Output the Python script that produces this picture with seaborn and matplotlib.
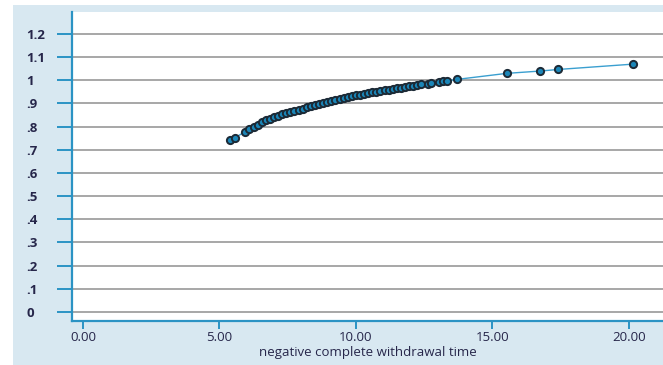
import matplotlib
matplotlib.use("Agg")
import matplotlib.pyplot as plt
from matplotlib.patches import Rectangle
import seaborn as sns
import pandas as pd

# Estimated curve: negative complete withdrawal time vs. fitted value
withdrawal_time = [
    5.38, 5.57, 5.95, 6.10, 6.25, 6.40, 6.55, 6.70, 6.85, 7.00, 7.15, 7.30,
    7.45, 7.60, 7.75, 7.90, 8.05, 8.20, 8.35, 8.50, 8.65, 8.80, 8.95, 9.10,
    9.25, 9.40, 9.55, 9.70, 9.85, 10.00, 10.15, 10.30, 10.45, 10.60, 10.75,
    10.90, 11.05, 11.20, 11.35, 11.50, 11.65, 11.80, 11.95, 12.10, 12.25,
    12.40, 12.65, 12.75, 13.05, 13.20, 13.35, 13.70, 15.52, 16.74, 17.42,
    20.16,
]
fitted_value = [
    0.742, 0.752, 0.779, 0.790, 0.800, 0.809, 0.818, 0.827, 0.835, 0.841,
    0.847, 0.853, 0.858, 0.863, 0.868, 0.873, 0.878, 0.883, 0.889, 0.894,
    0.899, 0.903, 0.907, 0.911, 0.916, 0.920, 0.924, 0.928, 0.932, 0.935,
    0.938, 0.941, 0.944, 0.948, 0.951, 0.954, 0.957, 0.960, 0.963, 0.965,
    0.968, 0.971, 0.974, 0.977, 0.980, 0.983, 0.986, 0.987, 0.994, 0.996,
    0.998, 1.004, 1.030, 1.040, 1.047, 1.070,
]
x_ticks = [0, 5, 10, 15, 20]
x_tick_labels = ["0.00", "5.00", "10.00", "15.00", "20.00"]
y_ticks = [0, 0.1, 0.2, 0.3, 0.4, 0.5, 0.6, 0.7, 0.8, 0.9, 1.0, 1.1, 1.2]
y_tick_labels = ["0", ".1", ".2", ".3", ".4", ".5", ".6", ".7", ".8", ".9",
                 "1", "1.1", "1.2"]
x_label = "negative complete withdrawal time"

df = pd.DataFrame({"t": withdrawal_time, "v": fitted_value})

sns.set_style("white")
plt.rcParams["font.family"] = ["Open Sans", "DejaVu Sans"]

BG = "#d8e8f1"
SPINE = "#2b93c4"
TEXT = "#26264a"

fig = plt.figure(figsize=(6.63, 3.65), dpi=100)
fig.patch.set_facecolor("white")
fig.patches.append(Rectangle((13 / 663, 0), 1 - 13 / 663, 1 - 5 / 365,
                             transform=fig.transFigure, facecolor=BG,
                             edgecolor="none", zorder=-10))

ax = fig.add_axes([72 / 663, 1 - 321 / 365, 591 / 663, 309 / 365])
ax.set_zorder(1)
ax.set_facecolor("white")

for yv in y_ticks:
    ax.axhline(yv, color="#a0a0a0", linewidth=1.3, zorder=1)

sns.lineplot(data=df, x="t", y="v", ax=ax, color="#3a9fd0", linewidth=1.0,
             marker="o", markersize=5.2, markerfacecolor="#1b86b8",
             markeredgecolor="#1c2a36", markeredgewidth=1.4, zorder=3)

ax.set_xlim(-0.40, 21.25)
ax.set_ylim(-0.039, 1.295)

ax.set_xticks(x_ticks)
ax.set_xticklabels(x_tick_labels, fontsize=9.5, color=TEXT,
                   fontweight="medium")
ax.set_yticks(y_ticks)
ax.set_yticklabels(y_tick_labels, fontsize=9.5, color=TEXT,
                   fontweight="bold", ha="left")

ax.tick_params(axis="y", direction="out", length=11, width=1.4,
               color=SPINE, pad=22, left=True)
ax.tick_params(axis="x", direction="out", length=6, width=1.4,
               color=SPINE, pad=1.5, bottom=True)

for side in ("top", "right"):
    ax.spines[side].set_visible(False)
for side in ("left", "bottom"):
    ax.spines[side].set_color(SPINE)
    ax.spines[side].set_linewidth(1.6)

ax.set_xlabel(x_label, fontsize=9.5, color=TEXT, labelpad=1,
              fontweight="medium")
ax.set_ylabel("")

fig.savefig("out.png", dpi=100, facecolor=fig.get_facecolor())
